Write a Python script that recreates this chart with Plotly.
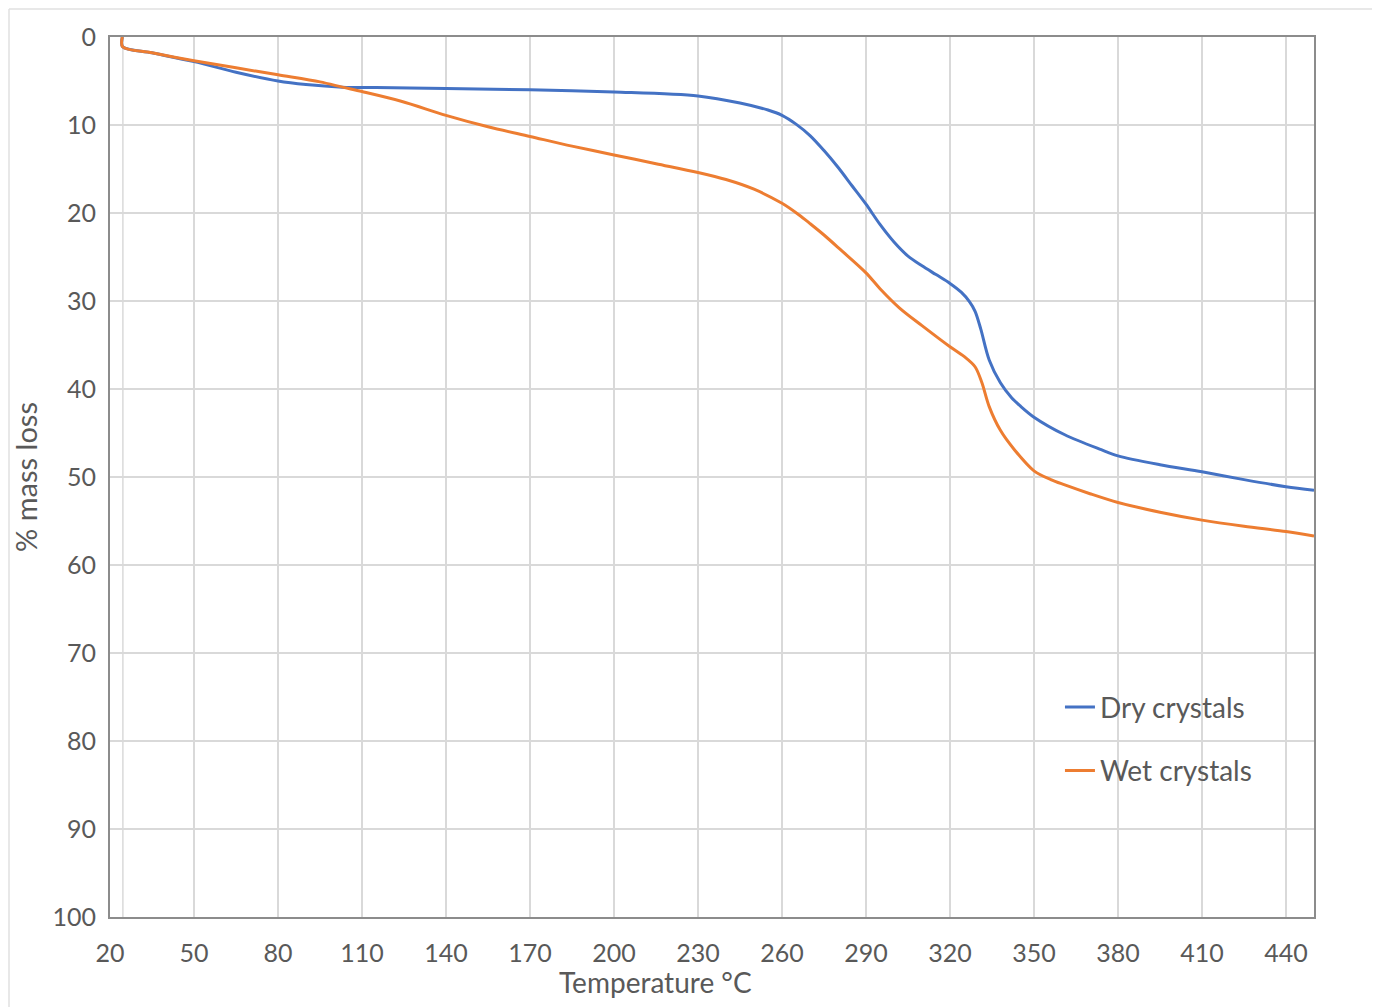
import plotly.graph_objects as go

# Dry crystals
dry_temp = [24.4, 24.5, 35, 50, 65, 80, 90, 103, 115, 127, 140, 170, 200, 230, 245, 255, 260, 265, 270, 275,
            280, 285, 290, 295, 300, 305, 310, 315, 320, 324, 327, 329, 331, 334, 338, 342, 345, 350, 361, 374,
            380, 395, 410, 425, 440, 450]
dry_loss = [0, 1.1, 1.8, 2.8, 4.0, 5.0, 5.4, 5.7, 5.75, 5.8, 5.85, 6.0, 6.25, 6.7, 7.5, 8.3, 8.9, 9.9, 11.2, 12.9,
            14.8, 16.9, 19.0, 21.3, 23.3, 24.9, 26.0, 27.0, 28.0, 29.0, 30.1, 31.2, 33.2, 36.7, 39.3, 41.0, 41.9, 43.2, 45.2, 46.9,
            47.6, 48.6, 49.4, 50.3, 51.1, 51.5]

# Wet crystals
wet_temp = [24.4, 24.5, 35, 50, 65, 80, 95, 103, 110, 124, 140, 155, 170, 185, 200, 215, 230, 240, 250, 260,
            266, 270, 275, 281, 290, 295, 302, 310, 320, 325, 329, 331.4, 334, 338, 343, 350, 356, 361, 370, 380,
            395, 410, 425, 440, 450]
wet_loss = [0, 1.1, 1.8, 2.7, 3.5, 4.3, 5.1, 5.7, 6.2, 7.3, 8.9, 10.2, 11.3, 12.4, 13.4, 14.4, 15.4, 16.2, 17.3, 18.9,
            20.2, 21.2, 22.5, 24.2, 26.8, 28.6, 30.8, 32.8, 35.2, 36.3, 37.5, 39.3, 42.0, 44.7, 46.9, 49.3, 50.3, 50.9, 51.9, 52.9,
            54.0, 54.9, 55.6, 56.2, 56.7]

x_ticks = [20, 50, 80, 110, 140, 170, 200, 230, 260, 290, 320, 350, 380, 410, 440]
y_ticks = [0, 10, 20, 30, 40, 50, 60, 70, 80, 90, 100]

FONT = "Lato"
TXT = "#595959"
GRID = "#d9d9d9"

W, H = 1364, 999
L, R, T, B = 102, 58, 29, 90
PW, PH = W - L - R, H - T - B

fig = go.Figure()
fig.add_trace(go.Scatter(x=dry_temp, y=dry_loss, mode="lines", name="Dry crystals", legendgroup="a",
                         line=dict(color="#4472C4", width=3, shape="spline", smoothing=0.9)))
fig.add_trace(go.Scatter(x=wet_temp, y=wet_loss, mode="lines", name="Wet crystals", legendgroup="b",
                         line=dict(color="#ED7D31", width=3, shape="spline", smoothing=0.9)))

fig.update_layout(
    width=W, height=H,
    margin=dict(l=L, r=R, t=T, b=B),
    paper_bgcolor="white", plot_bgcolor="white",
    font=dict(family=FONT, color=TXT, size=25),
    showlegend=True,
    legend=dict(x=0.789, y=0.2666, xanchor="left", yanchor="top", bgcolor="rgba(0,0,0,0)",
                font=dict(size=28, color=TXT, family=FONT), tracegroupgap=24, traceorder="grouped"),
    xaxis=dict(range=[20, 450], tickvals=x_ticks, showgrid=True, gridcolor=GRID, gridwidth=1.5,
               zeroline=False, showline=True, linecolor="#8c8c8c", linewidth=2, mirror=True,
               ticks="", ticklabelstandoff=13, tickfont=dict(size=25, color=TXT, family=FONT)),
    yaxis=dict(range=[100, 0], tickvals=y_ticks, showgrid=True, gridcolor=GRID, gridwidth=1.5,
               zeroline=False, showline=True, linecolor="#8c8c8c", linewidth=2, mirror=True,
               ticks="", ticklabelstandoff=7, tickfont=dict(size=25, color=TXT, family=FONT),
               title=dict(text="% mass loss", font=dict(size=29, color=TXT, family=FONT), standoff=6)),
)

# x-axis title (offset left of centre, as in the reference)
fig.add_annotation(text="Temperature °C", xref="paper", yref="paper", x=(655 - 110) / PW, y=-(982 - 917) / PH,
                   xanchor="center", yanchor="middle", showarrow=False,
                   font=dict(size=28, color=TXT, family=FONT))

# extra faint vertical line at the start of the measurement
fig.add_shape(type="line", xref="x", yref="paper", x0=24.6, x1=24.6, y0=0, y1=1,
              line=dict(color=GRID, width=1.5), layer="below")
# outer frame lines (top and left edges of the figure)
fx0 = (-L + 1) / PW
fy1 = 1 + (T - 1) / PH
fig.add_shape(type="line", xref="paper", yref="paper", x0=fx0, x1=1 + R / PW, y0=fy1, y1=fy1,
              line=dict(color="#e0e0e0", width=1.5))
fig.add_shape(type="line", xref="paper", yref="paper", x0=fx0, x1=fx0, y0=-B / PH, y1=fy1,
              line=dict(color="#e0e0e0", width=1.5))

fig.write_html("out.html")
